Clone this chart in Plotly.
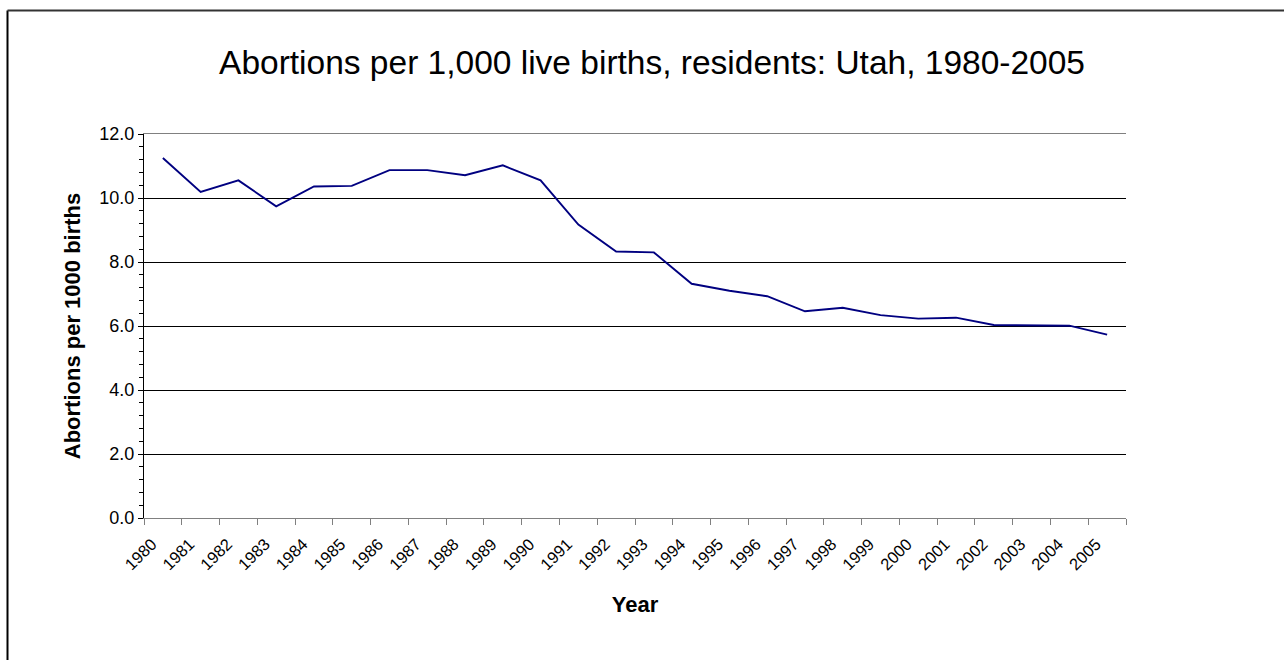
import plotly.graph_objects as go

years = [str(y) for y in range(1980, 2006)]
rates = [11.25, 10.19, 10.55, 9.74, 10.36, 10.38, 10.87, 10.87, 10.71, 11.02,
         10.55, 9.17, 8.33, 8.30, 7.32, 7.10, 6.93, 6.46, 6.57, 6.34,
         6.23, 6.26, 6.03, 6.02, 6.01, 5.73]

title_text = "Abortions per 1,000 live births, residents: Utah, 1980-2005"
y_title = "Abortions per 1000 births"
x_title = "Year"

W, H = 1284, 660
ML, MR, MT, MB = 144, 158, 134, 142
PW, PH = W - ML - MR, H - MT - MB

def px_x(px):
    return (px - ML) / PW

def px_y(py):
    return (H - MB - py) / PH

FONT = "Liberation Sans, Arial, sans-serif"

fig = go.Figure()
fig.add_trace(go.Scatter(x=years, y=rates, mode="lines",
                         line=dict(color="#000080", width=1.9),
                         showlegend=False, hoverinfo="x+y"))

fig.update_layout(
    width=W, height=H,
    margin=dict(l=ML, r=MR, t=MT, b=MB),
    paper_bgcolor="white", plot_bgcolor="white",
    font=dict(family=FONT, color="black"),
    title=dict(text=title_text, x=652 / W, xref="container", xanchor="center",
               y=1 - 62 / H, yanchor="middle",
               font=dict(size=33.5, color="black", family=FONT)),
    xaxis=dict(type="category", range=[-0.5, len(years) - 0.5],
               tickson="boundaries", ticks="outside", ticklen=6,
               tickcolor="#808080", showline=True, linecolor="#808080", linewidth=1,
               mirror=True, showgrid=False, tickangle=-45,
               ticklabelstandoff=9, ticklabelshift=-11,
               tickfont=dict(size=16.5, color="black"),
               title=dict(text="<b>" + x_title + "</b>", font=dict(size=22, color="black"),
                          standoff=24)),
    yaxis=dict(range=[0, 12], dtick=2, tickformat=".1f", ticks="outside", ticklen=5,
               tickcolor="black", showline=True, linecolor="black", linewidth=1,
               showgrid=True, gridcolor="black", gridwidth=1, zeroline=False,
               tickfont=dict(size=18, color="black"),
               minor=dict(dtick=0.4, ticks="outside", ticklen=4, tickcolor="black", showgrid=False),
               title=dict(text="<b>" + y_title + "</b>", font=dict(size=22, color="black"),
                          standoff=12)),
    shapes=[
        dict(type="line", xref="paper", yref="paper",
             x0=px_x(7.5), x1=px_x(7.5), y0=px_y(10.5), y1=px_y(H + 5),
             line=dict(color="black", width=2)),
        dict(type="line", xref="paper", yref="paper",
             x0=px_x(7.5), x1=px_x(W + 5), y0=px_y(10.5), y1=px_y(10.5),
             line=dict(color="#333333", width=2)),
    ],
)

fig.write_html("out.html", config={"displayModeBar": False},
               post_script="document.body.style.margin='0';")
